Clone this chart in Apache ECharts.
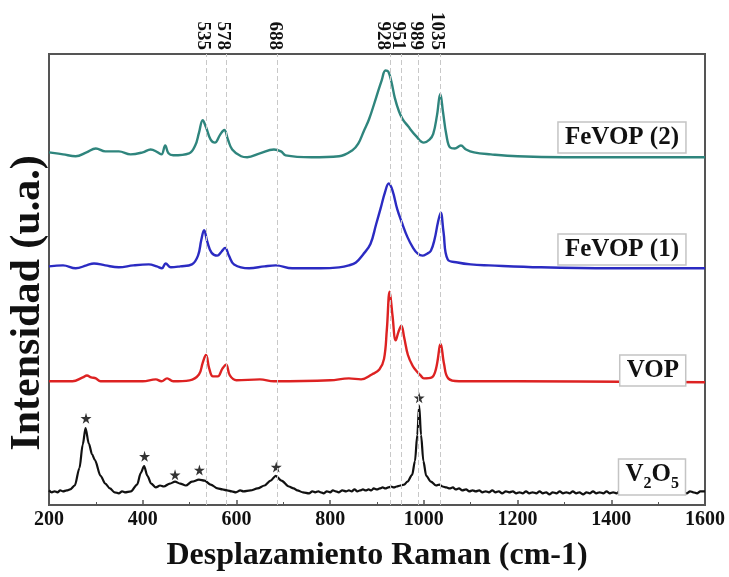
<!DOCTYPE html>
<html>
<head>
<meta charset="utf-8">
<script src="https://cdn.jsdelivr.net/npm/echarts@6/dist/echarts.min.js"></script>
<style>
  html, body { margin: 0; padding: 0; background: #fff; }
  #chart { width: 729px; height: 577px; }
</style>
</head>
<body>
<div id="chart"></div>
<script>
// Raman shift (cm-1) / intensity (a.u., already stacked)
const xTicks = [200, 400, 600, 800, 1000, 1200, 1400, 1600]
const peakLines = [535, 578, 688, 928, 951, 989, 1035]

const fevop2 = [
  [200, 362], [230, 360], [257, 358], [280, 362], [300, 366], [320, 363], [349, 363],
  [374, 360], [400, 362], [417, 365], [432, 362], [440, 360], [448, 369], [455, 361],
  [465, 359], [499, 361], [512, 369], [520, 382], [528, 395], [535, 388], [545, 375],
  [554, 372], [565, 380], [574, 385], [582, 375], [591, 365], [610, 358], [623, 357],
  [650, 361], [680, 365], [695, 363], [705, 359], [760, 357], [819, 358], [847, 364],
  [860, 371], [872, 384], [883, 396], [898, 418], [910, 436], [918, 446], [924, 445],
  [931, 434], [938, 418], [947, 404], [955, 396], [966, 389], [983, 379], [1000, 372],
  [1012, 375], [1020, 381], [1028, 400], [1035, 422], [1041, 403], [1048, 380],
  [1056, 367], [1066, 366], [1079, 369], [1090, 365], [1107, 362], [1143, 360],
  [1200, 358], [1300, 357], [1450, 357], [1600, 357]
]

const fevop1 = [
  [200, 245], [230, 246], [257, 243], [280, 246], [296, 248], [320, 246], [349, 244],
  [380, 246], [413, 247], [430, 245], [441, 243], [449, 248], [460, 244], [480, 245],
  [505, 247], [518, 256], [525, 272], [531, 282], [538, 270], [547, 259], [559, 256],
  [568, 260], [576, 264], [584, 256], [595, 247], [627, 243], [660, 245], [684, 246],
  [719, 243], [780, 243], [819, 244], [840, 246], [855, 249], [870, 257], [886, 268],
  [898, 288], [908, 305], [917, 321], [925, 330], [933, 323], [943, 304], [953, 290],
  [965, 275], [977, 264], [987, 258], [997, 256], [1007, 258], [1015, 261], [1023, 273],
  [1030, 290], [1036, 300], [1042, 280], [1051, 252], [1072, 249], [1100, 247],
  [1139, 246], [1250, 244], [1400, 243], [1600, 243]
]

const vop = [
  [200, 127], [250, 127], [272, 131], [281, 133], [290, 131], [300, 130], [310, 127],
  [400, 127], [428, 129], [440, 127], [452, 130], [465, 127], [500, 128], [520, 134],
  [528, 146], [535, 154], [542, 140], [550, 132], [560, 132], [570, 140], [578, 144],
  [586, 133], [600, 128], [650, 129], [680, 127], [800, 128], [840, 130], [866, 129],
  [889, 134], [905, 139], [915, 150], [921, 180], [927, 219], [933, 195], [940, 169],
  [946, 178], [952, 184], [958, 172], [966, 154], [976, 143], [985, 137], [993, 133],
  [1000, 130], [1017, 131], [1026, 140], [1036, 165], [1043, 145], [1052, 130],
  [1075, 127], [1200, 127], [1600, 126]
]

const v2o5 = [
  [200, 15], [206, 13], [212, 14], [218, 13], [224, 15], [230, 14], [238, 15], [245, 16], [255, 20],
  [265, 38], [272, 62], [278, 79], [285, 63], [292, 52], [298, 46], [310, 30], [320, 22],
  [330, 17], [340, 13], [349, 12], [356, 14], [362, 13], [375, 14], [388, 21], [396, 33],
  [403, 40], [410, 30], [418, 22], [428, 18], [437, 20], [445, 19], [458, 22], [469, 24],
  [480, 22], [492, 20], [505, 24], [520, 26], [532, 25], [545, 21], [560, 17], [570, 16],
  [580, 15], [590, 14], [599, 13], [608, 15], [615, 14], [630, 15], [645, 17], [660, 20],
  [673, 25], [684, 30], [696, 25], [712, 19], [722, 17], [730, 15], [742, 13], [755, 12],
  [762, 14], [768, 13], [775, 14], [780, 13], [786, 12], [793, 14], [800, 13], [806, 15],
  [812, 14], [818, 13], [826, 15], [834, 14], [840, 15], [846, 14], [852, 16], [858, 14],
  [864, 15], [870, 16], [876, 15], [882, 16], [888, 15], [893, 17], [900, 16], [906, 17],
  [912, 18], [918, 17], [924, 18], [930, 19], [936, 18], [942, 19], [950, 20], [958, 21],
  [965, 24], [975, 31], [981, 45], [986, 72], [990, 102], [994, 72], [999, 45], [1005, 30],
  [1015, 24], [1026, 20], [1033, 21], [1040, 19], [1048, 18], [1055, 17], [1062, 18],
  [1068, 16], [1075, 17], [1082, 15], [1090, 16], [1097, 14], [1104, 15], [1111, 14],
  [1118, 15], [1125, 13], [1132, 14], [1139, 13], [1146, 15], [1153, 13], [1160, 14],
  [1167, 12], [1175, 14], [1182, 13], [1190, 14], [1197, 12], [1204, 13], [1211, 12],
  [1218, 14], [1225, 12], [1232, 13], [1240, 12], [1247, 14], [1254, 12], [1261, 13],
  [1268, 11], [1275, 13], [1283, 12], [1290, 14], [1297, 12], [1304, 13], [1311, 12],
  [1318, 14], [1325, 12], [1332, 13], [1340, 11], [1347, 13], [1354, 12], [1361, 14],
  [1368, 12], [1375, 13], [1383, 12], [1390, 14], [1397, 12], [1404, 13], [1411, 12],
  [1418, 14], [1425, 12], [1432, 13], [1440, 12], [1447, 14], [1454, 12], [1461, 13],
  [1468, 12], [1475, 14], [1483, 12], [1490, 13], [1497, 12], [1504, 14], [1511, 13],
  [1518, 12], [1525, 14], [1532, 13], [1540, 12], [1547, 14], [1554, 13], [1561, 12],
  [1568, 14], [1575, 13], [1583, 12], [1590, 14], [1600, 14]
]

const v2o5Stars = [[279, 89], [404, 50], [469, 31], [521, 36], [685, 39], [990, 110]]

const serif = 'Liberation Serif'
const starPath = 'path://M50,0 L61,35 L98,35 L68,57 L79,91 L50,70 L21,91 L32,57 L2,35 L39,35 Z'

function lineSeries(name, data, color) {
  return {
    name: name,
    type: 'line',
    data: data,
    symbol: 'none',
    smooth: 0.4,
    lineStyle: { color: color, width: 2.4 }
  }
}

function boxTitle(text, top, rich) {
  return {
    text: text,
    right: 43,
    top: top,
    padding: [3, 7],
    backgroundColor: '#fff',
    borderColor: '#c4c4c4',
    borderWidth: 1.5,
    textStyle: {
      fontFamily: serif,
      fontWeight: 'bold',
      fontSize: 25,
      color: '#111',
      rich: rich
    }
  }
}

const labelFont = { fontFamily: serif, fontWeight: 'bold', fontSize: 20, color: '#111' }

const chart = echarts.init(document.getElementById('chart'))

const option = {
  animation: false,
  backgroundColor: '#fff',
  grid: {
    left: 49,
    right: 24,
    top: 54,
    bottom: 60,
    show: true,
    borderColor: '#555',
    borderWidth: 2
  },
  title: [
    boxTitle('FeVOP (2)', 122),
    boxTitle('FeVOP (1)', 234),
    boxTitle('VOP', 355),
    boxTitle('{v|V}{s|2}{v|O}{s|5}', 459, {
      v: { fontFamily: serif, fontWeight: 'bold', fontSize: 25, color: '#111', verticalAlign: 'top' },
      s: { fontFamily: serif, fontWeight: 'bold', fontSize: 16, color: '#111', padding: [14, 0, 0, 0] }
    })
  ],
  graphic: [{
    type: 'text',
    x: 28,
    y: 303,
    rotation: Math.PI / 2,
    style: {
      text: 'Intensidad (u.a.)',
      fontFamily: serif,
      fontWeight: 'bold',
      fontSize: 42,
      fill: '#111',
      align: 'center',
      verticalAlign: 'middle'
    }
  }],
  xAxis: [{
    type: 'value',
    min: 200,
    max: 1600,
    interval: 200,
    name: 'Desplazamiento Raman (cm-1)',
    nameLocation: 'middle',
    nameGap: 35,
    nameTextStyle: { fontFamily: serif, fontWeight: 'bold', fontSize: 32, color: '#111' },
    axisLine: { lineStyle: { color: '#555', width: 2 } },
    axisTick: { inside: true, length: 5, lineStyle: { color: '#555', width: 1.5 } },
    minorTick: { show: true, splitNumber: 2, length: 3, lineStyle: { color: '#555' } },
    axisLabel: Object.assign({ margin: 5, formatter: v => String(v) }, labelFont),
    splitLine: { show: false }
  }, {
    type: 'value',
    position: 'top',
    min: 200,
    max: 1600,
    axisLine: { show: true, lineStyle: { color: '#555', width: 2 } },
    axisTick: { show: false },
    splitLine: { show: false },
    axisLabel: {
      customValues: peakLines,
      rotate: 90,
      margin: 4,
      formatter: v => (v === 928 ? '{w|' + v + '}' : '{n|' + v + '}'),
      rich: {
        n: { fontFamily: serif, fontWeight: 'bold', color: '#111', fontSize: 19, padding: [6, 0, 0, 0] },
        w: { fontFamily: serif, fontWeight: 'bold', color: '#111', fontSize: 19, padding: [14, 0, 0, 0] }
      }
    }
  }],
  yAxis: {
    type: 'value',
    min: 0,
    max: 463,
    axisLine: { show: true, lineStyle: { color: '#555', width: 2 } },
    axisTick: { show: false },
    axisLabel: { show: false },
    splitLine: { show: false }
  },
  series: [
    Object.assign(lineSeries('V2O5', v2o5, '#111111'), {
      smooth: 0.3,
      smoothMonotone: 'x',
      lineStyle: { color: '#111111', width: 2.2 },
      markLine: {
        silent: true,
        symbol: 'none',
        label: { show: false },
        lineStyle: { color: '#c8c8c8', type: [5, 3], width: 1 },
        data: peakLines.map(v => ({ xAxis: v }))
      }
    }),
    lineSeries('VOP', vop, '#dd2222'),
    lineSeries('FeVOP (1)', fevop1, '#2b2bc2'),
    lineSeries('FeVOP (2)', fevop2, '#2f857d'),
    {
      name: 'stars',
      type: 'scatter',
      data: v2o5Stars,
      symbol: starPath,
      symbolSize: 11,
      itemStyle: { color: '#000' }
    }
  ]
}

chart.setOption(option)
</script>
</body>
</html>
